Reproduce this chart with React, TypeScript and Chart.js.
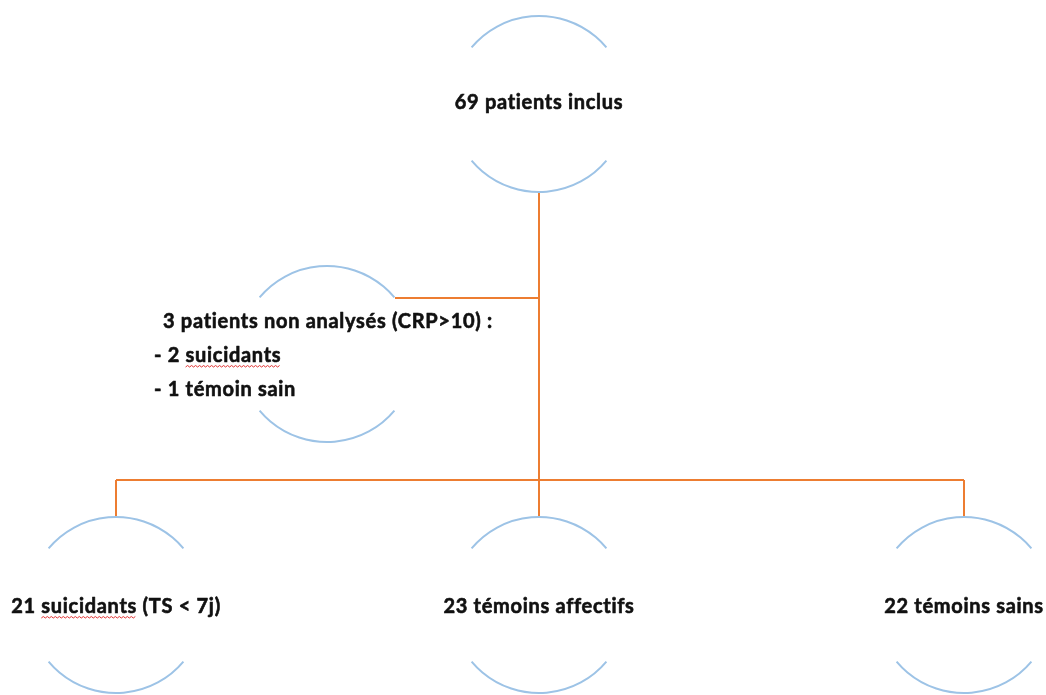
import React, { useEffect, useRef } from "react";
import { Chart, registerables } from "chart.js";

Chart.register(...registerables);

// Node positions (in diagram units = pixels of the 1046x695 reference)
const nodeX = [539, 327, 116, 539, 964];
const nodeY = [104, 354, 605, 605, 605];
const nodeRadius = [88, 88, 88, 88, 88];
const nodeLabels: string[][] = [
  ["69 patients inclus"],
  ["3 patients non analysés (CRP>10) :", "- 2 suicidants", "- 1 témoin sain"],
  ["21 suicidants (TS < 7j)"],
  ["23 témoins affectifs"],
  ["22 témoins sains"],
];
const nodeAlign = ["center", "left", "center", "center", "center"];
const labelLeftX = [0, 163, 0, 0, 0];
const labelLineLeft = [0, 154, 0, 0, 0];
const labelCenterY = [103, 322, 607, 607, 607];
const lineGap = 34;
// words marked with a red spell-check squiggle: [node, line, prefix, word]
const squiggles: [number, number, string, string][] = [
  [1, 1, "- 2 ", "suicidants"],
  [2, 0, "21 ", "suicidants"],
];

// Connectors
const trunk = [
  { x: 539, y: 193 },
  { x: 539, y: 480 },
];
const sideBranch = [
  { x: 539, y: 298 },
  { x: 395, y: 298 },
];
const bus = [
  { x: 116, y: 480 },
  { x: 964, y: 480 },
];
const dropLeft = [
  { x: 116, y: 480 },
  { x: 116, y: 517 },
];
const dropMid = [
  { x: 539, y: 480 },
  { x: 539, y: 517 },
];
const dropRight = [
  { x: 964, y: 480 },
  { x: 964, y: 517 },
];

const ORANGE = "#ED7D31";
const BLUE = "#9DC3E6";
const FONT = "bold 20px Lato, 'Liberation Sans', sans-serif";
const SPACING = "0.7px";

const nodesPlugin = {
  id: "nodes",
  afterDatasetsDraw(chart: any) {
    const ctx = chart.ctx as CanvasRenderingContext2D;
    const xs = chart.scales.x;
    const ys = chart.scales.y;
    const half = (50 * Math.PI) / 180;
    ctx.save();
    // arcs
    ctx.strokeStyle = BLUE;
    ctx.lineWidth = 2;
    for (let i = 0; i < nodeX.length; i++) {
      const cx = xs.getPixelForValue(nodeX[i]);
      const cy = ys.getPixelForValue(nodeY[i]);
      const r = Math.abs(xs.getPixelForValue(nodeX[i] + nodeRadius[i]) - cx);
      ctx.beginPath();
      ctx.arc(cx, cy, r, -Math.PI / 2 - half, -Math.PI / 2 + half);
      ctx.stroke();
      ctx.beginPath();
      ctx.arc(cx, cy, r, Math.PI / 2 - half, Math.PI / 2 + half);
      ctx.stroke();
    }
    // labels
    ctx.font = FONT;
    (ctx as any).letterSpacing = SPACING;
    ctx.fillStyle = "#111111";
    ctx.strokeStyle = "#111111";
    ctx.lineWidth = 0.6;
    ctx.lineJoin = "round";
    ctx.textBaseline = "middle";
    for (let i = 0; i < nodeX.length; i++) {
      const lines = nodeLabels[i];
      lines.forEach((t, j) => {
        const y = ys.getPixelForValue(labelCenterY[i] + j * lineGap);
        let x: number;
        if (nodeAlign[i] === "center") {
          ctx.textAlign = "center";
          x = xs.getPixelForValue(nodeX[i]);
        } else {
          ctx.textAlign = "left";
          x = xs.getPixelForValue(j === 0 ? labelLeftX[i] : labelLineLeft[i]);
        }
        ctx.fillText(t, x, y);
        ctx.strokeText(t, x, y);
      });
    }
    // squiggles
    ctx.strokeStyle = "#E03030";
    ctx.lineWidth = 1;
    ctx.textAlign = "left";
    for (const [n, l, prefix, word] of squiggles) {
      const line = nodeLabels[n][l];
      const full = ctx.measureText(line).width;
      let startX: number;
      if (nodeAlign[n] === "center") {
        startX = xs.getPixelForValue(nodeX[n]) - full / 2;
      } else {
        startX = xs.getPixelForValue(l === 0 ? labelLeftX[n] : labelLineLeft[n]);
      }
      const x0 = startX + ctx.measureText(prefix).width;
      const x1 = x0 + ctx.measureText(word).width;
      const y = ys.getPixelForValue(labelCenterY[n] + l * lineGap) + 11;
      ctx.beginPath();
      let up = true;
      ctx.moveTo(x0, y);
      for (let x = x0 + 2; x <= x1; x += 2) {
        ctx.lineTo(x, up ? y - 1.5 : y);
        up = !up;
      }
      ctx.stroke();
    }
    ctx.restore();
  },
};

export default function App() {
  const ref = useRef<HTMLCanvasElement | null>(null);
  useEffect(() => {
    document.body.style.margin = "0";
    document.body.style.background = "#ffffff";
    if (!ref.current) return;
    const mk = (data: { x: number; y: number }[]) => ({
      data,
      showLine: true,
      borderColor: ORANGE,
      borderWidth: 2,
      pointRadius: 0,
      fill: false,
    });
    const chart = new Chart(ref.current, {
      type: "scatter",
      data: {
        datasets: [mk(trunk), mk(sideBranch), mk(bus), mk(dropLeft), mk(dropMid), mk(dropRight)],
      },
      options: {
        animation: false,
        responsive: false,
        layout: { padding: 0 },
        plugins: { legend: { display: false }, tooltip: { enabled: false } },
        scales: {
          x: { type: "linear", min: 0, max: 1046, display: false },
          y: { type: "linear", min: 0, max: 695, reverse: true, display: false },
        },
      },
      plugins: [nodesPlugin],
    });
    return () => chart.destroy();
  }, []);
  return (
    <div style={{ width: 1046, height: 695, background: "#fff" }}>
      <canvas ref={ref} width={1046} height={695} style={{ display: "block" }} />
    </div>
  );
}
